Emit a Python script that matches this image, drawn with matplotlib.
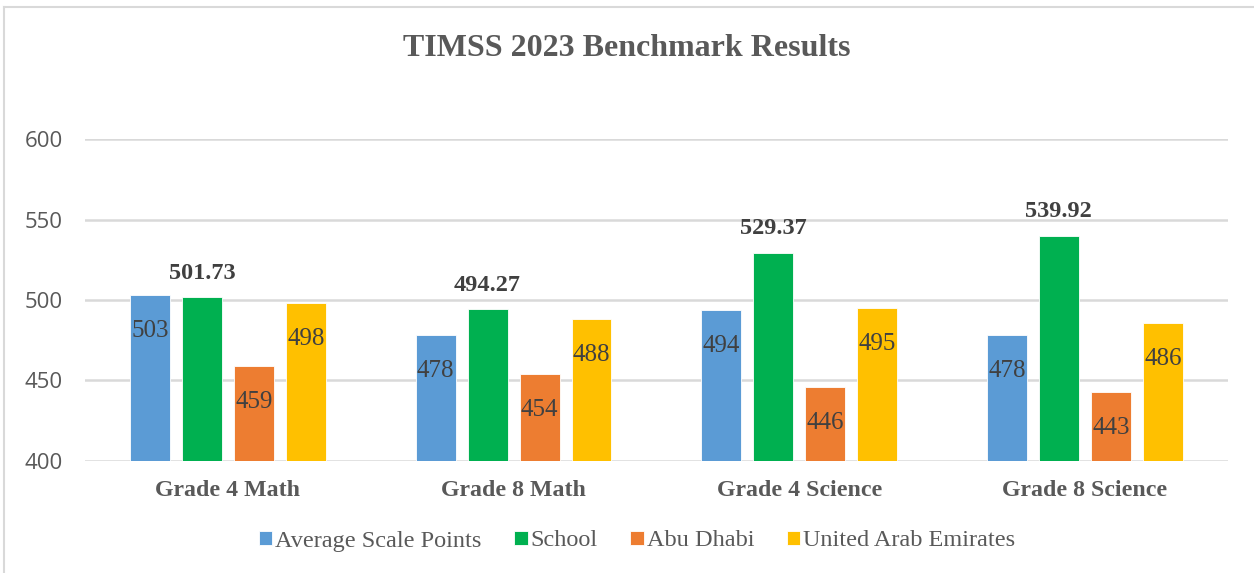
import matplotlib.pyplot as plt
import numpy as np
from matplotlib.lines import Line2D

plt.rcParams['font.family'] = 'Liberation Serif'

categories = ["Grade 4 Math", "Grade 8 Math", "Grade 4 Science", "Grade 8 Science"]
series_names = ["Average Scale Points", "School", "Abu Dhabi", "United Arab Emirates"]
average_pts = [503, 478, 494, 478]
school = [501.73, 494.27, 529.37, 539.92]
abu_dhabi = [459, 454, 446, 443]
uae = [498, 488, 495, 486]
colors = ['#5b9bd5', '#00b050', '#ed7d31', '#ffc000']
yticks = [400, 450, 500, 550, 600]

grey = '#595959'
label_col = '#404040'

fig = plt.figure(figsize=(12.54, 5.73), dpi=100)
ax = fig.add_axes([0.0678, 0.1955, 0.9112, 0.5619])

# light frame around the chart area
fig.add_artist(Line2D([4/1254, 4/1254], [0, 1 - 7/573], transform=fig.transFigure,
                      color='#d9d9d9', lw=1.5))
fig.add_artist(Line2D([4/1254, 1], [1 - 7/573, 1 - 7/573], transform=fig.transFigure,
                      color='#d9d9d9', lw=1.5))

x = np.arange(len(categories))
pitch = 0.182
width = 0.14
all_series = [average_pts, school, abu_dhabi, uae]

for i, (vals, col, name) in enumerate(zip(all_series, colors, series_names)):
    pos = x + (i - 1.5) * pitch
    ax.bar(pos, np.array(vals) - 400, width=width, bottom=400, color=col,
           label=name, zorder=3, edgecolor='white', linewidth=0.6)
    for px, v in zip(pos, vals):
        if name == "School":
            ax.annotate(f"{v:.2f}", (px, v), xytext=(0, 24), textcoords='offset pixels',
                        ha='center', va='center', fontsize=17.5, fontweight='bold',
                        color=label_col)
        else:
            ax.annotate(f"{v:g}", (px, v), xytext=(0, -36), textcoords='offset pixels',
                        ha='center', va='center', fontsize=18, color=label_col, zorder=4)

ax.set_ylim(400, 600)
ax.set_xlim(-0.5, 3.5)
ax.set_yticks(yticks)
ax.grid(axis='y', color='#d9d9d9', lw=1.8, zorder=0)
ax.set_xticks(x)
ax.set_xticklabels(categories, fontsize=17.2, fontweight='bold', color=grey)
for lab in ax.get_yticklabels():
    lab.set_fontfamily('Open Sans')
    lab.set_fontsize(16)
    lab.set_color(grey)
ax.tick_params(axis='both', length=0)
ax.tick_params(axis='y', pad=16)
ax.tick_params(axis='x', pad=14)
for s in ax.spines.values():
    s.set_visible(False)

fig.text(0.5, 1 - 49/573, "TIMSS 2023 Benchmark Results", ha='center', va='center',
         fontsize=23, fontweight='bold', color=grey)

leg = fig.legend(loc='center', bbox_to_anchor=(0.508, 1 - 541/573), ncol=4, frameon=False,
                 fontsize=17.5, handlelength=0.55, handleheight=0.55, handletextpad=0.12,
                 columnspacing=1.35, labelcolor=grey)

fig.savefig('out.png', dpi=100)
